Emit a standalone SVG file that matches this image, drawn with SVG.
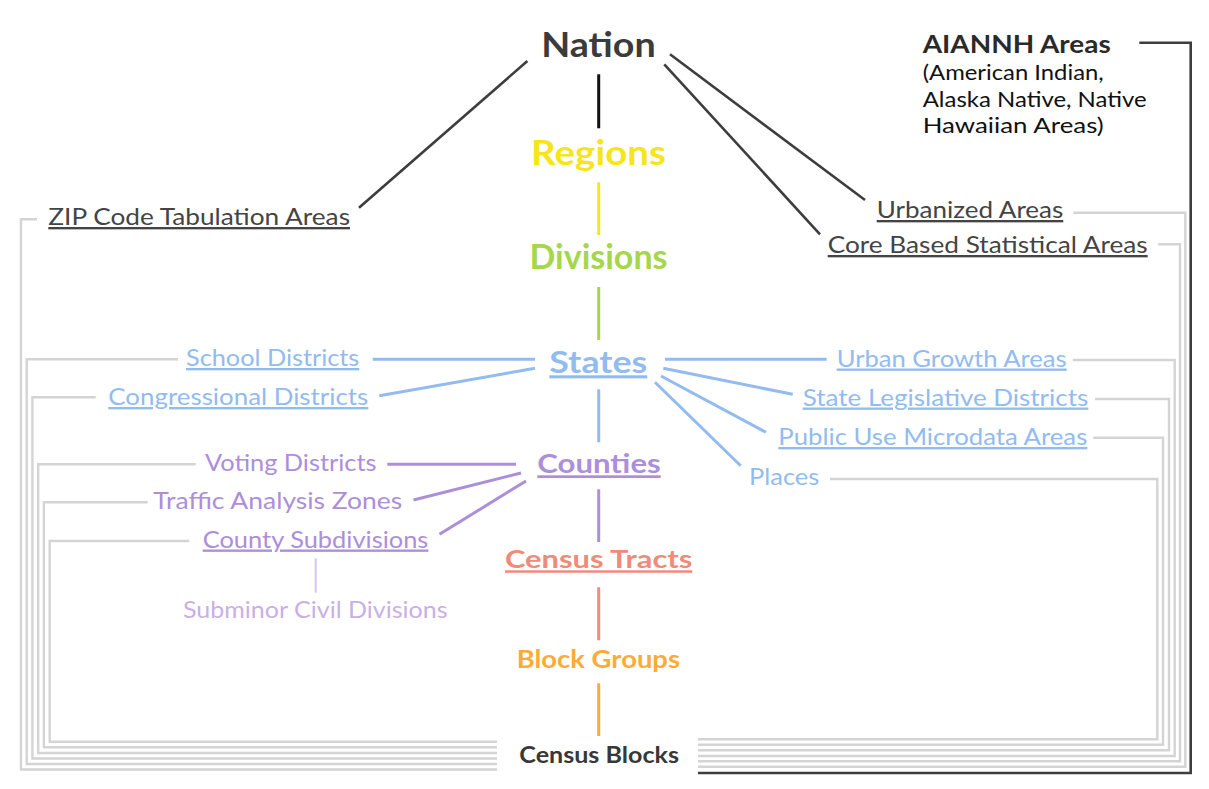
<svg xmlns="http://www.w3.org/2000/svg" width="1209" height="789" viewBox="0 0 1209 789">
<style>
text{font-family:Lato,"Noto Sans","DejaVu Sans",sans-serif;}
.u{text-decoration:underline;}
.b{font-weight:700;}
.m{font-weight:600;}
.item{font-size:23.5px;}
.k{fill:#444444;}
.blue{fill:#92bbef;}
.pur{fill:#ac8edb;}
.gy{fill:none;stroke:#d4d4d4;stroke-width:2.4;}
.dk{fill:none;stroke:#3d3d3d;stroke-width:2.6;}
.cl{fill:none;stroke-width:3;}
</style>
<g id="connectors">
  <line class="dk" x1="527.4" y1="61" x2="359" y2="207.7"/>
  <line class="dk" x1="670" y1="54.3" x2="865" y2="200"/>
  <line class="dk" x1="664.3" y1="64.3" x2="820" y2="234.3"/>
  <line class="cl" stroke="#111111" x1="598.7" y1="74.3" x2="598.7" y2="128.3"/>
  <line class="cl" stroke="#f7e51b" x1="598.7" y1="182.3" x2="598.7" y2="235"/>
  <line class="cl" stroke="#a6d64b" x1="598.7" y1="287" x2="598.7" y2="340"/>
  <line class="cl" stroke="#92bbef" x1="598.7" y1="389.3" x2="598.7" y2="442.3"/>
  <line class="cl" stroke="#ac8edb" x1="598.7" y1="489.3" x2="598.7" y2="542"/>
  <line class="cl" stroke="#f08a79" x1="598.7" y1="587.3" x2="598.7" y2="640.3"/>
  <line class="cl" stroke="#fbab38" x1="598.7" y1="683.3" x2="598.7" y2="736"/>
  <line class="cl" stroke="#92bbef" x1="372.7" y1="359.3" x2="535" y2="359.3"/>
  <line class="cl" stroke="#92bbef" x1="379.3" y1="395.7" x2="535" y2="368.3"/>
  <line class="cl" stroke="#92bbef" x1="665" y1="359.3" x2="826.7" y2="359.3"/>
  <line class="cl" stroke="#92bbef" x1="663.3" y1="368.3" x2="792.7" y2="394.3"/>
  <line class="cl" stroke="#92bbef" x1="661" y1="376" x2="766" y2="432.3"/>
  <line class="cl" stroke="#92bbef" x1="655" y1="382.3" x2="740.7" y2="465.7"/>
  <line class="cl" stroke="#ac8edb" x1="387.3" y1="464.3" x2="516" y2="464.3"/>
  <line class="cl" stroke="#ac8edb" x1="413.5" y1="500" x2="521" y2="473"/>
  <line class="cl" stroke="#ac8edb" x1="439.5" y1="534.3" x2="526" y2="481"/>
  <line stroke="#d7c6ef" stroke-width="2" x1="315.7" y1="558.3" x2="315.7" y2="592.7"/>
  <path class="gy" d="M37 219.3H21V769.5H497"/>
  <path class="gy" d="M178 359.3H26.7V764H497"/>
  <path class="gy" d="M95.7 397.3H32.4V758.5H497"/>
  <path class="gy" d="M195.7 464.3H38.2V753H497"/>
  <path class="gy" d="M147.7 502.3H43.9V747.3H497"/>
  <path class="gy" d="M189.3 541H49.7V741.7H497"/>
  <path class="gy" d="M830 479H1157.3V739.3H698"/>
  <path class="gy" d="M1093.3 437.7H1163V744.7H698"/>
  <path class="gy" d="M1095 399H1169V750.3H698"/>
  <path class="gy" d="M1072.7 360H1174.7V756H698"/>
  <path class="gy" d="M1158.3 244.3H1180V761.3H698"/>
  <path class="gy" d="M1073.3 212.7H1185.3V766.7H698"/>
  <path class="dk" stroke-width="2.4" d="M1139.3 42.7H1190.7V773H698"/>
</g>
<g id="nation"><text class="b" x="541.2" y="57.3" font-size="35" fill="#3b3b3b" textLength="114.5" lengthAdjust="spacingAndGlyphs">Nation</text></g>
<g id="regions"><text class="b" x="531" y="165" font-size="34" fill="#f7e51b" textLength="135" lengthAdjust="spacingAndGlyphs">Regions</text></g>
<g id="divisions"><text class="b" x="529.5" y="269" font-size="34" fill="#a6d64b" textLength="138" lengthAdjust="spacingAndGlyphs">Divisions</text></g>
<g id="states"><text class="b u blue" x="549.3" y="373.3" font-size="30.5" textLength="98" lengthAdjust="spacingAndGlyphs">States</text></g>
<g id="counties"><text class="b u pur" x="537.3" y="473.3" font-size="27.5" textLength="123.4" lengthAdjust="spacingAndGlyphs">Counties</text></g>
<g id="census-tracts"><text class="b u" x="505" y="568.3" font-size="25" fill="#f08a79" textLength="187.3" lengthAdjust="spacingAndGlyphs">Census Tracts</text></g>
<g id="block-groups"><text class="b" x="516.7" y="668.3" font-size="25" fill="#fbab38" textLength="163.3" lengthAdjust="spacingAndGlyphs">Block Groups</text></g>
<g id="census-blocks"><text class="b" x="519.3" y="762.7" font-size="23" fill="#383838" textLength="159.7" lengthAdjust="spacingAndGlyphs">Census Blocks</text></g>
<g id="zcta"><text class="item u k" x="48.3" y="225" textLength="301.7" lengthAdjust="spacingAndGlyphs">ZIP Code Tabulation Areas</text></g>
<g id="urbanized"><text class="item u k" x="876.7" y="218" textLength="186.6" lengthAdjust="spacingAndGlyphs">Urbanized Areas</text></g>
<g id="cbsa"><text class="item u k" x="827.7" y="253" textLength="320" lengthAdjust="spacingAndGlyphs">Core Based Statistical Areas</text></g>
<g id="school"><text class="item u blue" x="186" y="366" textLength="173.3" lengthAdjust="spacingAndGlyphs">School Districts</text></g>
<g id="congress"><text class="item u blue" x="108.3" y="405" textLength="260" lengthAdjust="spacingAndGlyphs">Congressional Districts</text></g>
<g id="uga"><text class="item u blue" x="836.7" y="366.5" textLength="230" lengthAdjust="spacingAndGlyphs">Urban Growth Areas</text></g>
<g id="sld"><text class="item u blue" x="802.7" y="405.5" textLength="285.6" lengthAdjust="spacingAndGlyphs">State Legislative Districts</text></g>
<g id="puma"><text class="item u blue" x="778.3" y="445" textLength="309" lengthAdjust="spacingAndGlyphs">Public Use Microdata Areas</text></g>
<g id="places"><text class="item blue" x="749" y="484.5" textLength="70.3" lengthAdjust="spacingAndGlyphs">Places</text></g>
<g id="voting"><text class="item pur" x="205" y="470.7" textLength="171.5" lengthAdjust="spacingAndGlyphs">Voting Districts</text></g>
<g id="taz"><text class="item pur" x="153.3" y="509.3" textLength="249" lengthAdjust="spacingAndGlyphs">Traffic Analysis Zones</text></g>
<g id="cousub"><text class="item u pur" x="202.7" y="547.5" textLength="225.7" lengthAdjust="spacingAndGlyphs">County Subdivisions</text></g>
<g id="submcd"><text class="item" x="183" y="617.5" fill="#c8b0e7" textLength="264.5" lengthAdjust="spacingAndGlyphs">Subminor Civil Divisions</text></g>
<g id="aiannh">
  <text class="b" x="922.7" y="53.3" font-size="24" fill="#2a2a2a" textLength="188" lengthAdjust="spacingAndGlyphs">AIANNH Areas</text>
  <text x="922.7" y="80" font-size="20.5" fill="#111111" textLength="181" lengthAdjust="spacingAndGlyphs">(American Indian,</text>
  <text x="922.7" y="106.5" font-size="20.5" fill="#111111" textLength="224" lengthAdjust="spacingAndGlyphs">Alaska Native, Native</text>
  <text x="922.7" y="133" font-size="20.5" fill="#111111" textLength="181" lengthAdjust="spacingAndGlyphs">Hawaiian Areas)</text>
</g>
</svg>
